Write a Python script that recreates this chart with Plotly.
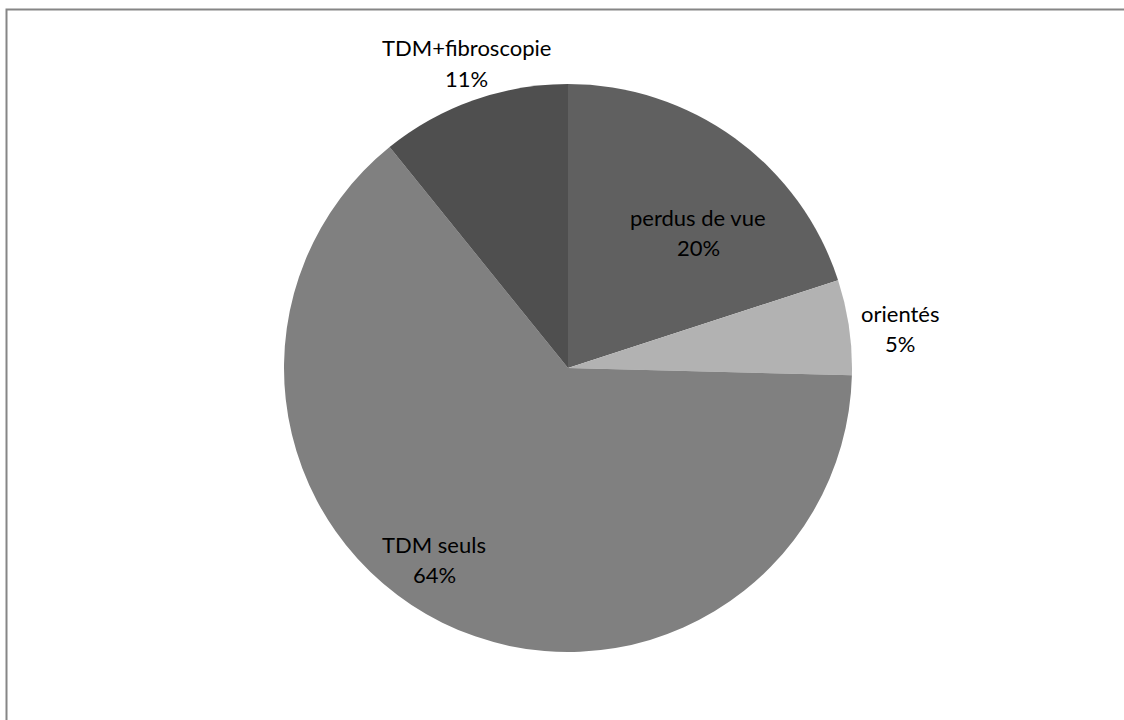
import plotly.graph_objects as go

labels = ["perdus de vue", "orientés", "TDM seuls", "TDM+fibroscopie"]
values = [37, 10, 118, 20]
colors = ["#606060", "#b2b2b2", "#808080", "#4f4f4f"]

W, H = 1124, 720
cx, cy, r = 568, 368, 284

# position (px) du centre de chaque étiquette, comme dans l'original
label_xy = [(698, 232), (900, 328), (434, 559), (466, 63)]
line_gap = 30

fig = go.Figure(go.Pie(
    labels=labels,
    values=values,
    sort=False,
    direction="clockwise",
    rotation=0,
    marker=dict(colors=colors, line=dict(width=0)),
    textinfo="none",
    automargin=False,
    showlegend=False,
    hoverinfo="label+percent",
    domain=dict(x=[(cx - r) / W, (cx + r) / W], y=[1 - (cy + r) / H, 1 - (cy - r) / H]),
))

total = sum(values)
font = dict(family="Lato", size=22, color="black")
for lab, val, (px, py) in zip(labels, values, label_xy):
    pct = f"{round(100 * val / total)}%"
    for txt, dy in [(lab, -line_gap / 2), (pct, line_gap / 2)]:
        fig.add_annotation(
            x=px / W, y=1 - (py + dy) / H, xref="paper", yref="paper",
            text=txt, showarrow=False, font=font,
            xanchor="center", yanchor="middle",
        )

# cadre gris autour du graphique
fig.add_shape(type="rect", xref="paper", yref="paper",
              x0=6.5 / W, x1=1.02, y0=-0.02, y1=1 - 9.5 / H,
              line=dict(color="#868686", width=2))

fig.update_layout(
    width=W, height=H,
    margin=dict(l=0, r=0, t=0, b=0),
    paper_bgcolor="white",
    plot_bgcolor="white",
)

fig.write_html("out.html", config={"displayModeBar": False},
               post_script="document.body.style.margin='0';document.body.style.overflow='hidden';")
